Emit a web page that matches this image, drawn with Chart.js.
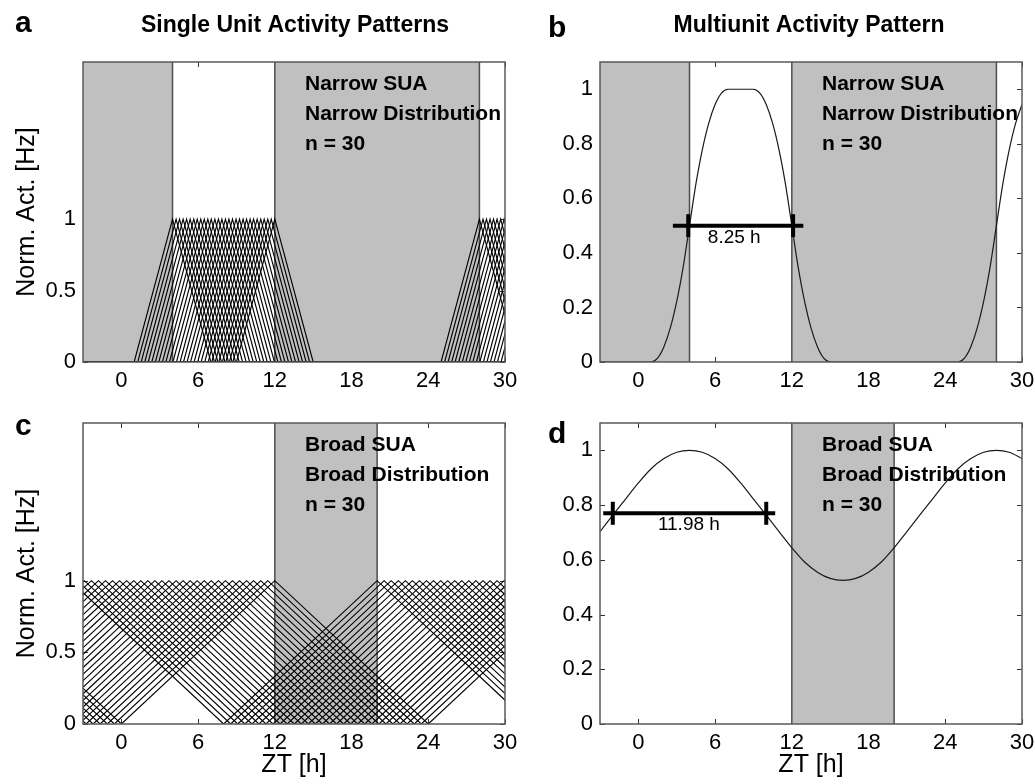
<!DOCTYPE html>
<html>
<head>
<meta charset="utf-8">
<script src="https://cdn.jsdelivr.net/npm/chart.js@4.4.1/dist/chart.umd.min.js"></script>
<style>
  html, body { margin: 0; padding: 0; background: #fff; }
  #fig { position: relative; width: 1035px; height: 784px; }
  canvas { position: absolute; }
</style>
</head>
<body>
<div id="fig">
  <canvas id="pa" width="517" height="392" style="left:0;top:0"></canvas>
  <canvas id="pb" width="518" height="392" style="left:517px;top:0"></canvas>
  <canvas id="pc" width="517" height="392" style="left:0;top:392px"></canvas>
  <canvas id="pd" width="518" height="392" style="left:517px;top:392px"></canvas>
</div>
<script>
Chart.defaults.font.family = "'Liberation Sans', Arial, Helvetica, sans-serif";
Chart.defaults.color = '#000';

// axes
const xTicks = [0, 6, 12, 18, 24, 30];
const xMin = -3, xMax = 30;
const suaTicks = [0, 0.5, 1];
const muaTicks = [0, 0.2, 0.4, 0.6, 0.8, 1];
const suaTop = 2.1, muaTop = 1.1;

// peak times of the 30 single units (ZT, h)
const narrowPeaks = [4.00, 4.28, 4.55, 4.83, 5.10, 5.38, 5.66, 5.93, 6.21, 6.48,
  6.76, 7.03, 7.31, 7.59, 7.86, 8.14, 8.41, 8.69, 8.97, 9.24,
  9.52, 9.79, 10.07, 10.34, 10.62, 10.90, 11.17, 11.45, 11.72, 12.00];
const broadPeaks = [-4.00, -3.45, -2.90, -2.34, -1.79, -1.24, -0.69, -0.14, 0.41, 0.97,
  1.52, 2.07, 2.62, 3.17, 3.72, 4.28, 4.83, 5.38, 5.93, 6.48,
  7.03, 7.59, 8.14, 8.69, 9.24, 9.79, 10.34, 10.90, 11.45, 12.00];
const narrowHalf = 3, broadHalf = 12, period = 24;

// dark phases
const darkNarrow = [[-3, 4], [12, 28]];
const edgesNarrow = [4, 12, 28];
const darkBroad = [[12, 20]];
const edgesBroad = [12, 20];

// multiunit curves
const muaNarrowX = [-3, -2, -1, 0, 1, 1.5, 2, 2.5, 3, 3.5, 4, 4.5, 5, 5.5, 6, 6.5, 7, 8, 9, 9.5,
  10, 10.5, 11, 11.5, 12, 12.5, 13, 13.5, 14, 14.5, 15, 20, 25, 25.5, 26, 26.5, 27, 27.5, 28, 28.5,
  29, 29.5, 30];
const muaNarrowY = [0, 0, 0, 0, 0, 0.014, 0.056, 0.125, 0.222, 0.347, 0.5, 0.653, 0.778, 0.875, 0.944, 0.986, 1, 1, 1, 0.986,
  0.944, 0.875, 0.778, 0.653, 0.5, 0.347, 0.222, 0.125, 0.056, 0.014, 0, 0, 0, 0.014, 0.056, 0.125, 0.222, 0.347, 0.5, 0.653,
  0.778, 0.875, 0.944];
const muaBroadX = [-3, -2, -1, 0, 1, 2, 3, 4, 5, 6, 7, 8, 9, 10, 11, 12, 13, 14, 15, 16,
  17, 18, 19, 20, 21, 22, 23, 24, 25, 26, 27, 28, 29, 30];
const muaBroadY = [0.703, 0.763, 0.822, 0.881, 0.933, 0.970, 0.993, 1, 0.993, 0.970, 0.933, 0.881, 0.822, 0.763, 0.703, 0.644, 0.592, 0.555, 0.532, 0.525,
  0.532, 0.555, 0.592, 0.644, 0.703, 0.763, 0.822, 0.881, 0.933, 0.970, 0.993, 1, 0.993, 0.970];

// width bars
const barNarrowX = [2.7, 12.9], barNarrowTicks = [3.9, 12.1], barNarrowY = 0.5;
const barBroadX = [-2.75, 10.7], barBroadTicks = [-2.0, 10.0], barBroadY = 0.77;
const barTickHalf = 0.042;

const FONT = "'Liberation Sans', Arial, Helvetica, sans-serif";

function unitTrace(p, half) {
  const pts = [];
  for (const k of [-1, 0, 1]) {
    const c = p + k * period;
    pts.push({x: c - half, y: 0}, {x: c, y: 1}, {x: c + half, y: 0});
  }
  return {data: pts, showLine: true, borderColor: '#000', borderWidth: 1.15, pointRadius: 0, order: 5};
}

function shade(span, top) {
  return {data: [{x: span[0], y: top}, {x: span[1], y: top}], showLine: true, fill: 'origin',
    backgroundColor: '#c0c0c0', borderColor: 'rgba(0,0,0,0)', borderWidth: 0, pointRadius: 0, order: 10};
}

function edge(v, top) {
  return {data: [{x: v, y: 0}, {x: v, y: top}], showLine: true, borderColor: '#4d4d4d',
    borderWidth: 1.5, pointRadius: 0, order: 6};
}

function curve(xs, ys) {
  return {data: xs.map((x, i) => ({x: x, y: ys[i]})), showLine: true, borderColor: '#1a1a1a',
    borderWidth: 1.2, pointRadius: 0, cubicInterpolationMode: 'monotone', order: 2};
}

function bar(xs, ticks, y) {
  const out = [{data: [{x: xs[0], y: y}, {x: xs[1], y: y}], showLine: true, borderColor: '#000',
    borderWidth: 4, pointRadius: 0, order: 1}];
  ticks.forEach(t => out.push({data: [{x: t, y: y - barTickHalf}, {x: t, y: y + barTickHalf}],
    showLine: true, borderColor: '#000', borderWidth: 4, pointRadius: 0, order: 1}));
  return out;
}

function panelPlugin(cfg) {
  return {
    id: 'panel',
    beforeDatasetsDraw(chart) {
      const {ctx, chartArea: a, scales: {x, y}} = chart;
      ctx.save();
      ctx.strokeStyle = '#333';
      ctx.lineWidth = 1;
      ctx.beginPath();
      xTicks.forEach(v => {
        const px = Math.round(x.getPixelForValue(v)) + 0.5;
        ctx.moveTo(px, a.bottom); ctx.lineTo(px, a.bottom - 5);
        ctx.moveTo(px, a.top); ctx.lineTo(px, a.top + 5);
      });
      cfg.yTicks.forEach(v => {
        const py = Math.round(y.getPixelForValue(v)) + 0.5;
        ctx.moveTo(a.left, py); ctx.lineTo(a.left + 5, py);
        ctx.moveTo(a.right, py); ctx.lineTo(a.right - 5, py);
      });
      ctx.stroke();
      ctx.restore();
    },
    afterDatasetsDraw(chart) {
      const {ctx, chartArea: a, scales: {x, y}} = chart;
      ctx.save();
      ctx.strokeStyle = '#5a5a5a';
      ctx.lineWidth = 1.5;
      ctx.strokeRect(a.left, a.top, a.right - a.left, a.bottom - a.top);
      ctx.fillStyle = '#000';
      ctx.textAlign = 'left';
      ctx.textBaseline = 'alphabetic';
      ctx.font = 'bold 21px ' + FONT;
      cfg.notes.forEach((t, i) => ctx.fillText(t, a.left + 222, a.top + 28 + i * 30));
      if (cfg.barLabel) {
        ctx.font = '19px ' + FONT;
        ctx.textAlign = 'center';
        ctx.fillText(cfg.barLabel, x.getPixelForValue(cfg.barLabelX), y.getPixelForValue(cfg.barY) + 17);
      }
      ctx.restore();
    },
    afterDraw(chart) {
      const ctx = chart.ctx;
      ctx.save();
      ctx.fillStyle = '#000';
      ctx.textBaseline = 'alphabetic';
      if (cfg.title) {
        ctx.font = 'bold 23px ' + FONT;
        ctx.textAlign = 'center';
        ctx.fillText(cfg.title, cfg.titleX, 32);
      }
      ctx.font = 'bold 30px ' + FONT;
      ctx.textAlign = 'left';
      ctx.fillText(cfg.letter, cfg.letterX, cfg.letterY);
      ctx.restore();
    }
  };
}

function makePanel(id, cfg) {
  new Chart(document.getElementById(id), {
    type: 'scatter',
    data: {datasets: cfg.datasets},
    options: {
      responsive: false,
      animation: false,
      devicePixelRatio: 1,
      events: [],
      layout: {padding: {left: 0, right: cfg.right, top: cfg.top, bottom: 0}},
      plugins: {legend: {display: false}, tooltip: {enabled: false}, title: {display: false}},
      scales: {
        x: {
          type: 'linear', min: xMin, max: xMax,
          grid: {display: false, drawTicks: false}, border: {display: false},
          afterBuildTicks: s => { s.ticks = xTicks.map(v => ({value: v})); },
          afterFit: s => { s.height = cfg.xh; s.paddingLeft = 0; s.paddingRight = 0; },
          ticks: {font: {size: 22}, padding: 6, maxRotation: 0, autoSkip: false, callback: v => String(v)},
          title: {display: !!cfg.xTitle, text: cfg.xTitle || '', font: {size: 25}, padding: {top: 0, bottom: 4}}
        },
        y: {
          type: 'linear', min: 0, max: cfg.yTop,
          grid: {display: false, drawTicks: false}, border: {display: false},
          afterBuildTicks: s => { s.ticks = cfg.yTicks.map(v => ({value: v})); },
          afterFit: s => { s.width = 83; s.paddingTop = 0; s.paddingBottom = 0; },
          ticks: {font: {size: 22}, padding: 7, autoSkip: false, callback: v => String(v)},
          title: {display: !!cfg.yTitle, text: cfg.yTitle || '', font: {size: 25}, padding: {top: 12, bottom: 0}}
        }
      }
    },
    plugins: [panelPlugin(cfg)]
  });
}

// a
makePanel('pa', {
  datasets: [].concat(
    darkNarrow.map(s => shade(s, suaTop)),
    edgesNarrow.map(e => edge(e, suaTop)),
    narrowPeaks.map(p => unitTrace(p, narrowHalf))),
  yTicks: suaTicks, yTop: suaTop, yTitle: 'Norm. Act. [Hz]',
  right: 12, top: 62, xh: 30,
  notes: ['Narrow SUA', 'Narrow Distribution', 'n = 30'],
  title: 'Single Unit Activity Patterns', titleX: 295, letter: 'a', letterX: 15, letterY: 32
});

// b
makePanel('pb', {
  datasets: [].concat(
    darkNarrow.map(s => shade(s, muaTop)),
    edgesNarrow.map(e => edge(e, muaTop)),
    [curve(muaNarrowX, muaNarrowY)],
    bar(barNarrowX, barNarrowTicks, barNarrowY)),
  yTicks: muaTicks, yTop: muaTop,
  right: 13, top: 62, xh: 30,
  notes: ['Narrow SUA', 'Narrow Distribution', 'n = 30'],
  barLabel: '8.25 h', barLabelX: 7.5, barY: barNarrowY,
  title: 'Multiunit Activity Pattern', titleX: 292, letter: 'b', letterX: 31, letterY: 37
});

// c
makePanel('pc', {
  datasets: [].concat(
    darkBroad.map(s => shade(s, suaTop)),
    edgesBroad.map(e => edge(e, suaTop)),
    broadPeaks.map(p => unitTrace(p, broadHalf))),
  yTicks: suaTicks, yTop: suaTop, yTitle: 'Norm. Act. [Hz]', xTitle: 'ZT [h]',
  right: 12, top: 31, xh: 60,
  notes: ['Broad SUA', 'Broad Distribution', 'n = 30'],
  letter: 'c', letterX: 15, letterY: 43
});

// d
makePanel('pd', {
  datasets: [].concat(
    darkBroad.map(s => shade(s, muaTop)),
    edgesBroad.map(e => edge(e, muaTop)),
    [curve(muaBroadX, muaBroadY)],
    bar(barBroadX, barBroadTicks, barBroadY)),
  yTicks: muaTicks, yTop: muaTop, xTitle: 'ZT [h]',
  right: 13, top: 31, xh: 60,
  notes: ['Broad SUA', 'Broad Distribution', 'n = 30'],
  barLabel: '11.98 h', barLabelX: 3.95, barY: barBroadY,
  letter: 'd', letterX: 31, letterY: 51
});
</script>
</body>
</html>
